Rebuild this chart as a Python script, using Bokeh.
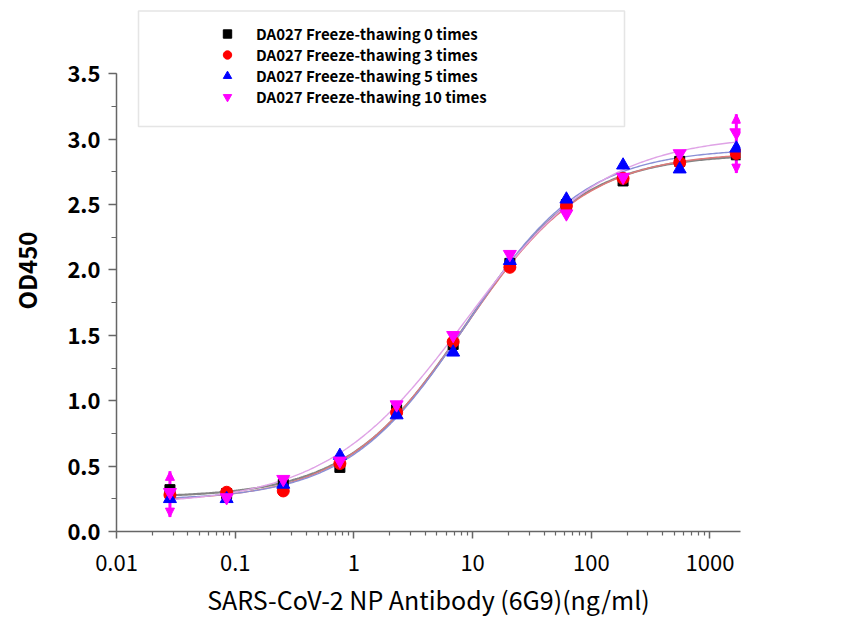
import numpy as np
from bokeh.plotting import figure
from bokeh.models import (Range1d, FixedTicker, SingleIntervalTicker, PrintfTickFormatter,
                          CustomJSTickFormatter, Legend, LegendItem, BoxAnnotation,
                          ColumnDataSource, Whisker, NormalHead, LinearAxis)
from bokeh.embed import file_html
from bokeh.resources import INLINE

# ---------------- data ----------------
conc = [0.0282, 0.0847, 0.254, 0.762, 2.29, 6.86, 20.6, 61.7, 185.2, 555.6, 1666.7]
od_0 = [0.32, 0.29, 0.36, 0.49, 0.93, 1.43, 2.05, 2.50, 2.68, 2.83, 2.88]
od_3 = [0.28, 0.30, 0.31, 0.52, 0.91, 1.45, 2.02, 2.49, 2.70, 2.82, 2.89]
od_5 = [0.25, 0.25, 0.36, 0.58, 0.89, 1.37, 2.07, 2.54, 2.80, 2.77, 2.93]
od_10 = [0.30, 0.26, 0.40, 0.54, 0.97, 1.50, 2.12, 2.43, 2.71, 2.89, 3.05]
err10_lo = [0.19, 0, 0, 0, 0, 0, 0, 0, 0, 0, 0.31]
err10_hi = [0.16, 0, 0, 0, 0, 0, 0, 0, 0, 0, 0.14]

labels = ["DA027 Freeze-thawing 0 times", "DA027 Freeze-thawing 3 times",
          "DA027 Freeze-thawing 5 times", "DA027 Freeze-thawing 10 times"]
x_ticks = [0.01, 0.1, 1, 10, 100, 1000]
y_ticks_interval = 0.5

FONT = "Noto Sans CJK SC"


def fit4pl(x, y):
    """Least-squares four-parameter logistic fit (grid over b, c; linear in a, d)."""
    x = np.asarray(x, float)
    y = np.asarray(y, float)
    lx = np.log10(x)
    lcs = np.arange(-0.5, 2.0, 0.002)
    best = (np.inf, None)
    for b in np.arange(0.4, 2.0, 0.005):
        g = 1.0 / (1.0 + 10 ** (b * (lx[None, :] - lcs[:, None])))
        u, v = g, 1 - g
        suu = (u * u).sum(1); svv = (v * v).sum(1); suv = (u * v).sum(1)
        suy = (u * y).sum(1); svy = (v * y).sum(1)
        det = suu * svv - suv ** 2
        a = (suy * svv - svy * suv) / det
        d = (svy * suu - suy * suv) / det
        res = ((a[:, None] * u + d[:, None] * v - y) ** 2).sum(1)
        i = int(np.nanargmin(res))
        if res[i] < best[0]:
            best = (res[i], (a[i], b, 10 ** lcs[i], d[i]))
    return best[1]


def curve(params, xs):
    a, b, c, d = params
    return d + (a - d) / (1 + (xs / c) ** b)


# ---------------- figure ----------------
PX_PER_UNIT = 130.8
FRAME_TOP = 9
BOTTOM_BORDER = 100
HEIGHT = 631
frame_h = HEIGHT - FRAME_TOP - BOTTOM_BORDER
p = figure(width=830, height=HEIGHT, x_axis_type="log",
           x_range=Range1d(0.01, 1807), y_range=Range1d(0, frame_h / PX_PER_UNIT),
           output_backend="svg", toolbar_location=None,
           min_border_left=116, min_border_right=90, min_border_top=FRAME_TOP,
           min_border_bottom=BOTTOM_BORDER)
p.outline_line_color = None
p.grid.visible = False
p.background_fill_color = "white"

axis_color = "#666666"
for ax in (p.xaxis[0], p.yaxis[0]):
    ax.axis_line_color = axis_color
    ax.axis_line_width = 1.5
    ax.major_tick_line_color = axis_color
    ax.minor_tick_line_color = axis_color
    ax.major_tick_line_width = 1.5
    ax.minor_tick_line_width = 1.2
    ax.major_tick_in = 0
    ax.minor_tick_in = 0
    ax.major_label_text_font = FONT
    ax.major_label_text_font_size = "22px"
    ax.major_label_text_color = "black"
    ax.axis_label_text_font = FONT
    ax.axis_label_text_font_size = "24px"
    ax.axis_label_text_color = "black"

# y axis (line and ticks stop at 3.5)
ya = p.yaxis[0]
ya.bounds = (0, 3.5)
ya.ticker = SingleIntervalTicker(interval=y_ticks_interval, num_minor_ticks=2)
ya.formatter = PrintfTickFormatter(format="%.1f")
ya.major_tick_out = 8
ya.minor_tick_out = 5
ya.major_label_standoff = 8
ya.major_label_text_font_style = "bold"

# outer left axis carrying only the title, centred on the whole frame
title_axis = LinearAxis(ticker=FixedTicker(ticks=[]), axis_line_color=None,
                        major_tick_line_color=None, minor_tick_line_color=None,
                        major_tick_out=0, minor_tick_out=0, major_label_standoff=0,
                        axis_label="OD450", axis_label_standoff=21,
                        axis_label_text_font=FONT, axis_label_text_font_size="24px",
                        axis_label_text_font_style="bold", axis_label_text_color="black")
p.add_layout(title_axis, "left")

# x axis
minor = [k * 10.0 ** e for e in range(-2, 4) for k in range(2, 10)]
xa = p.xaxis[0]
xa.ticker = FixedTicker(ticks=x_ticks, minor_ticks=minor)
xa.formatter = CustomJSTickFormatter(code="return String(Number(tick.toPrecision(3)));")
xa.major_tick_out = 7
xa.minor_tick_out = 4
xa.major_label_standoff = 16
xa.axis_label = "SARS-CoV-2 NP Antibody (6G9)(ng/ml)"
xa.axis_label_text_font_style = "normal"
xa.axis_label_text_font_size = "25px"
xa.axis_label_standoff = 7

# ---------------- curves + points ----------------
series = [
    (od_0, "black", "square", 10, "#858585", 2.2),
    (od_3, "red", "circle", 12, "#e07a7a", 1.4),
    (od_5, "blue", "triangle", 13, "#8a8fd6", 1.4),
    (od_10, "magenta", "inverted_triangle", 13, "#dfa3e6", 1.4),
]

xs = np.logspace(np.log10(min(conc)) - 0.02, np.log10(max(conc)) + 0.01, 300)
for vals, col, marker, size, ccol, lw in series:
    prm = fit4pl(conc, vals)
    p.line(xs, curve(prm, xs), line_color=ccol, line_width=lw)

# error bars for 10-times series
up = [v + e for v, e in zip(od_10, err10_hi)]
lo = [v - e for v, e in zip(od_10, err10_lo)]
idx = [i for i in range(len(conc)) if err10_hi[i] > 0 or err10_lo[i] > 0]
esrc = ColumnDataSource(dict(x=[conc[i] for i in idx], up=[up[i] for i in idx], lo=[lo[i] for i in idx]))
wh = Whisker(base="x", upper="up", lower="lo", source=esrc, dimension="height",
             line_color="magenta", line_width=3,
             upper_head=NormalHead(size=9, fill_color="magenta", line_color="magenta"),
             lower_head=NormalHead(size=9, fill_color="magenta", line_color="magenta"))
p.add_layout(wh)

items = []
for (vals, col, marker, size, ccol, lw), lab in zip(series, labels):
    r = p.scatter(conc, vals, marker=marker, size=size, fill_color=col, line_color=col)
    items.append(LegendItem(label=lab, renderers=[r]))

# legend box
box = BoxAnnotation(left=22, right=508, top=520.5, bottom=405,
                    left_units="screen", right_units="screen", top_units="screen", bottom_units="screen",
                    fill_color=None, fill_alpha=0, line_color="#a8a8a8", line_width=1.5)
p.add_layout(box)

legend = Legend(items=items, location=(100, 424), orientation="vertical",
                border_line_color=None, background_fill_alpha=0,
                padding=0, margin=0, spacing=0, label_height=16, glyph_height=21, glyph_width=22,
                label_standoff=18, label_text_font=FONT, label_text_font_size="15px",
                label_text_font_style="bold", label_text_color="black")
p.add_layout(legend, "center")

open("out.html", "w").write(file_html(p, INLINE))
